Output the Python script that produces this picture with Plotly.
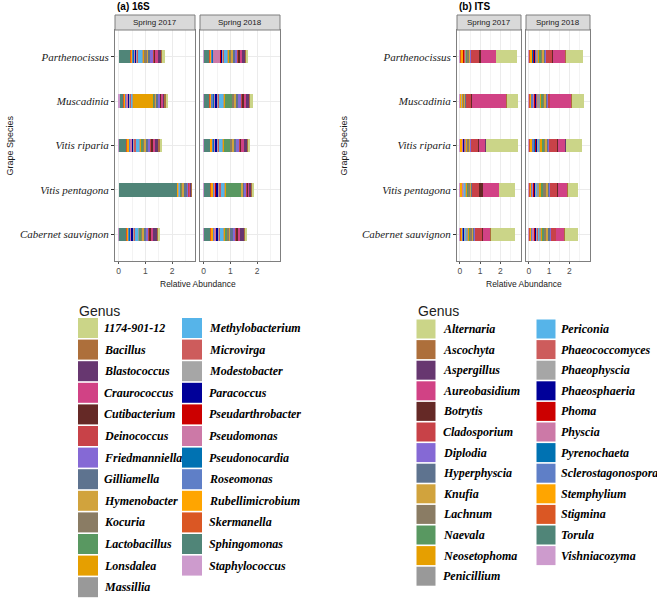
import plotly.graph_objects as go

W, H = 657, 601

# ---------------- data ----------------
species = ["Parthenocissus", "Muscadinia", "Vitis riparia", "Vitis pentagona", "Cabernet sauvignon"]
seasons = ["Spring 2017", "Spring 2018"]

genera_16s = ["1174-901-12", "Bacillus", "Blastococcus", "Craurococcus", "Cutibacterium",
              "Deinococcus", "Friedmanniella", "Gilliamella", "Hymenobacter", "Kocuria",
              "Lactobacillus", "Lonsdalea", "Massillia", "Methylobacterium", "Microvirga",
              "Modestobacter", "Paracoccus", "Pseudarthrobacter", "Pseudomonas", "Pseudonocardia",
              "Roseomonas", "Rubellimicrobium", "Skermanella", "Sphingomonas", "Staphylococcus"]

genera_its = ["Alternaria", "Ascochyta", "Aspergillus", "Aureobasidium", "Botrytis",
              "Cladosporium", "Diplodia", "Hyperphyscia", "Knufia", "Lachnum",
              "Naevala", "Neosetophoma", "Penicillium", "Periconia", "Phaeococcomyces",
              "Phaeophyscia", "Phaeosphaeria", "Phoma", "Physcia", "Pyrenochaeta",
              "Sclerostagonospora", "Stemphylium", "Stigmina", "Torula", "Vishniacozyma"]

palette = ["#CBD588", "#AD6F3B", "#673770", "#D14285", "#652926",
           "#C84248", "#8569D5", "#5E738F", "#D1A33D", "#8A7C64",
           "#599861", "#E69F00", "#999999", "#56B4E9", "#CD5C5C",
           "#A6A6A6", "#000099", "#CC0000", "#CC79A7", "#0072B2",
           "#5F7FC7", "#FFA500", "#DA5724", "#508578", "#CD9BCD"]

# 16S relative abundance, one list per bar, genus order as genera_16s
bac17_parthenocissus = [0.07, 0.04, 0.14, 0.10, 0.03, 0.04, 0.12, 0.05, 0.08, 0.07, 0.03, 0.02, 0.03, 0.16, 0.03, 0.04, 0.04, 0.01, 0.04, 0.02, 0.03, 0.05, 0.03, 0.45, 0.00]
bac17_muscadinia     = [0.05, 0.04, 0.06, 0.06, 0.03, 0.03, 0.07, 0.05, 0.04, 0.04, 0.08, 0.72, 0.03, 0.05, 0.02, 0.03, 0.05, 0.01, 0.05, 0.02, 0.04, 0.03, 0.02, 0.15, 0.05]
bac17_riparia        = [0.08, 0.05, 0.13, 0.10, 0.03, 0.04, 0.10, 0.05, 0.09, 0.05, 0.06, 0.03, 0.03, 0.15, 0.03, 0.04, 0.05, 0.01, 0.06, 0.02, 0.03, 0.06, 0.03, 0.30, 0.01]
bac17_pentagona      = [0.00, 0.01, 0.03, 0.04, 0.01, 0.02, 0.03, 0.15, 0.04, 0.03, 0.04, 0.01, 0.01, 0.02, 0.01, 0.02, 0.01, 0.00, 0.01, 0.00, 0.01, 0.01, 0.01, 2.20, 0.00]
bac17_cabernet       = [0.07, 0.04, 0.16, 0.10, 0.03, 0.05, 0.09, 0.06, 0.07, 0.05, 0.05, 0.02, 0.03, 0.12, 0.03, 0.04, 0.06, 0.01, 0.05, 0.02, 0.03, 0.06, 0.03, 0.28, 0.01]

bac18_parthenocissus = [0.06, 0.04, 0.13, 0.09, 0.03, 0.04, 0.10, 0.05, 0.08, 0.04, 0.05, 0.02, 0.03, 0.14, 0.03, 0.03, 0.04, 0.02, 0.28, 0.02, 0.04, 0.05, 0.03, 0.20, 0.02]
bac18_muscadinia     = [0.07, 0.04, 0.14, 0.09, 0.03, 0.04, 0.15, 0.06, 0.08, 0.07, 0.25, 0.03, 0.04, 0.15, 0.03, 0.05, 0.05, 0.02, 0.05, 0.03, 0.05, 0.06, 0.03, 0.20, 0.02]
bac18_riparia        = [0.06, 0.04, 0.14, 0.10, 0.03, 0.04, 0.13, 0.06, 0.07, 0.05, 0.25, 0.02, 0.03, 0.13, 0.03, 0.04, 0.06, 0.02, 0.05, 0.02, 0.04, 0.06, 0.03, 0.22, 0.02]
bac18_pentagona      = [0.06, 0.03, 0.06, 0.06, 0.03, 0.04, 0.07, 0.04, 0.05, 0.03, 0.55, 0.02, 0.04, 0.16, 0.03, 0.06, 0.08, 0.01, 0.04, 0.02, 0.04, 0.06, 0.03, 0.25, 0.01]
bac18_cabernet       = [0.07, 0.04, 0.14, 0.10, 0.03, 0.04, 0.12, 0.06, 0.08, 0.05, 0.08, 0.02, 0.03, 0.14, 0.03, 0.04, 0.06, 0.02, 0.06, 0.02, 0.04, 0.06, 0.03, 0.24, 0.02]

# ITS relative abundance, genus order as genera_its
its17_parthenocissus = [1.00, 0.01, 0.01, 0.75, 0.04, 0.45, 0.01, 0.03, 0.04, 0.10, 0.02, 0.03, 0.05, 0.00, 0.02, 0.02, 0.01, 0.02, 0.01, 0.00, 0.01, 0.12, 0.03, 0.01, 0.01]
its17_muscadinia     = [0.57, 0.01, 0.01, 1.70, 0.02, 0.28, 0.00, 0.02, 0.03, 0.05, 0.01, 0.03, 0.02, 0.00, 0.01, 0.01, 0.00, 0.01, 0.00, 0.00, 0.00, 0.05, 0.03, 0.00, 0.01]
its17_riparia        = [1.55, 0.01, 0.01, 0.36, 0.02, 0.36, 0.01, 0.03, 0.03, 0.07, 0.02, 0.03, 0.08, 0.00, 0.02, 0.03, 0.04, 0.02, 0.01, 0.01, 0.01, 0.08, 0.02, 0.02, 0.01]
its17_pentagona      = [0.77, 0.01, 0.01, 0.77, 0.20, 0.35, 0.01, 0.04, 0.06, 0.10, 0.03, 0.05, 0.06, 0.01, 0.02, 0.03, 0.02, 0.02, 0.01, 0.01, 0.01, 0.08, 0.03, 0.01, 0.01]
its17_cabernet       = [1.20, 0.01, 0.01, 0.38, 0.02, 0.37, 0.01, 0.05, 0.05, 0.12, 0.03, 0.04, 0.12, 0.01, 0.03, 0.04, 0.03, 0.02, 0.01, 0.01, 0.01, 0.10, 0.03, 0.01, 0.01]

its18_parthenocissus = [0.85, 0.01, 0.01, 0.61, 0.02, 0.33, 0.02, 0.06, 0.08, 0.09, 0.06, 0.07, 0.07, 0.02, 0.03, 0.03, 0.04, 0.05, 0.02, 0.02, 0.03, 0.08, 0.04, 0.02, 0.02]
its18_muscadinia     = [0.59, 0.01, 0.01, 1.02, 0.01, 0.12, 0.02, 0.05, 0.08, 0.10, 0.05, 0.10, 0.08, 0.02, 0.03, 0.04, 0.04, 0.06, 0.02, 0.03, 0.08, 0.07, 0.03, 0.02, 0.01]
its18_riparia        = [0.80, 0.01, 0.01, 0.40, 0.01, 0.41, 0.02, 0.06, 0.08, 0.10, 0.07, 0.08, 0.08, 0.02, 0.03, 0.04, 0.03, 0.04, 0.02, 0.03, 0.16, 0.07, 0.03, 0.02, 0.02]
its18_pentagona      = [0.52, 0.01, 0.01, 0.47, 0.01, 0.38, 0.02, 0.10, 0.10, 0.10, 0.12, 0.08, 0.10, 0.02, 0.03, 0.04, 0.06, 0.04, 0.03, 0.02, 0.03, 0.08, 0.04, 0.02, 0.01]
its18_cabernet       = [0.66, 0.01, 0.01, 0.40, 0.01, 0.28, 0.02, 0.10, 0.09, 0.10, 0.08, 0.10, 0.10, 0.02, 0.03, 0.05, 0.05, 0.10, 0.03, 0.02, 0.03, 0.08, 0.04, 0.02, 0.01]

x_ticks = [0, 1, 2]

bac_bars = {
    "Spring 2017": [bac17_parthenocissus, bac17_muscadinia, bac17_riparia, bac17_pentagona, bac17_cabernet],
    "Spring 2018": [bac18_parthenocissus, bac18_muscadinia, bac18_riparia, bac18_pentagona, bac18_cabernet],
}
its_bars = {
    "Spring 2017": [its17_parthenocissus, its17_muscadinia, its17_riparia, its17_pentagona, its17_cabernet],
    "Spring 2018": [its18_parthenocissus, its18_muscadinia, its18_riparia, its18_pentagona, its18_cabernet],
}

# ---------------- layout helpers ----------------
def xd(a, b):
    return [a / W, b / W]

def yd(top, bottom):
    return [1 - bottom / H, 1 - top / H]

def py(p):
    return 1 - p / H

def px(p):
    return p / W

PANEL_TOP, PANEL_BOT = 30, 261
STRIP_TOP = 15
panels = [
    (bac_bars, genera_16s, "Spring 2017", "x", "y", (115, 195), [-0.135, 2.85], True),
    (bac_bars, genera_16s, "Spring 2018", "x2", "y2", (200, 280), [-0.135, 2.85], False),
    (its_bars, genera_its, "Spring 2017", "x3", "y3", (457, 521), [-0.14, 3.01], True),
    (its_bars, genera_its, "Spring 2018", "x4", "y4", (526, 590), [-0.14, 3.01], False),
]

fig = go.Figure()
layout = dict(
    width=W, height=H, margin=dict(l=0, r=0, t=0, b=0),
    paper_bgcolor="white", plot_bgcolor="white",
    showlegend=False, barmode="stack", bargap=0,
    font=dict(family="Liberation Sans", color="#1a1a1a"),
)
shapes = []
annotations = []
BORDER = "#7F7F7F"
GRID = "#EBEBEB"

for bars, genera, season, xa, ya, (x0, x1), xr, first in panels:
    table = bars[season]
    for gi in reversed(range(len(genera))):
        fig.add_trace(go.Bar(
            y=species, x=[row[gi] for row in table], orientation="h",
            marker=dict(color=palette[gi], line=dict(width=0)), width=0.3,
            name=genera[gi], xaxis=xa, yaxis=ya, hoverinfo="x+name",
        ))
    xkey = "xaxis" + xa[1:]
    ykey = "yaxis" + ya[1:]
    layout[xkey] = dict(
        domain=xd(x0, x1), range=xr, anchor=ya,
        tickmode="array", tickvals=x_ticks, ticktext=[str(t) for t in x_ticks],
        showgrid=True, gridcolor=GRID, gridwidth=1,
        minor=dict(dtick=0.5, tick0=0, showgrid=True, gridcolor="#F3F3F3", gridwidth=0.6, ticks=""),
        zeroline=False, showline=True, mirror=True, linecolor=BORDER, linewidth=1,
        ticks="outside", ticklen=2, tickcolor="#555555",
        tickfont=dict(size=8.5, color="#4D4D4D", family="Liberation Sans"),
    )
    layout[ykey] = dict(
        domain=yd(PANEL_TOP, PANEL_BOT), anchor=xa, type="category",
        categoryorder="array", categoryarray=species[::-1], range=[-0.6, 4.6],
        showgrid=True, gridcolor=GRID, gridwidth=1, zeroline=False,
        showline=True, mirror=True, linecolor=BORDER, linewidth=1,
        tickmode="array", tickvals=species, ticktext=["<i>%s</i>" % s for s in species],
        ticks="outside" if first else "", ticklen=3, tickcolor="#333333",
        showticklabels=first,
        tickfont=dict(size=11, family="Liberation Serif", color="#1a1a1a"),
    )
    shapes.append(dict(type="rect", xref=xa + " domain", yref="paper",
                       x0=0, x1=1, y0=py(PANEL_TOP), y1=py(STRIP_TOP),
                       fillcolor="#D9D9D9", line=dict(color=BORDER, width=1), layer="above"))
    annotations.append(dict(text=season, xref=xa + " domain", yref="paper",
                            x=0.5, y=py((PANEL_TOP + STRIP_TOP) / 2), showarrow=False,
                            xanchor="center", yanchor="middle",
                            font=dict(size=8, color="#1A1A1A", family="Liberation Sans")))

for label, xl in [("<b>(a) 16S</b>", 115), ("<b>(b) ITS</b>", 457)]:
    annotations.append(dict(text=label, xref="paper", yref="paper", x=px(xl), y=py(7),
                            xanchor="left", yanchor="middle", showarrow=False,
                            font=dict(size=10, color="black", family="Liberation Sans")))
for xc in [(115 + 280) / 2, (457 + 590) / 2]:
    annotations.append(dict(text="Relative Abundance", xref="paper", yref="paper",
                            x=px(xc), y=py(284), showarrow=False,
                            xanchor="center", yanchor="middle",
                            font=dict(size=8.5, color="#1a1a1a", family="Liberation Sans")))
for xc in [9, 343]:
    annotations.append(dict(text="Grape Species", xref="paper", yref="paper", textangle=-90,
                            x=px(xc), y=py((PANEL_TOP + PANEL_BOT) / 2), showarrow=False,
                            xanchor="center", yanchor="middle",
                            font=dict(size=9, color="#1a1a1a", family="Liberation Sans")))

# ---------------- legends (marker grids on hidden axes) ----------------
legends = [
    # genera, per-column, x axis, y axis, domain px x, domain px y, col centres, first row, row step, swatch, text gaps, title x
    (genera_16s, 13, "x5", "y5", (60, 330), (295, 601), (88, 192), 328, 21.6, 20, (4, 5), 77),
    (genera_its, 13, "x6", "y6", (380, 657), (295, 601), (426, 546), 329, 20.6, 19, (5, 3), 416),
]
for genera, per_col, xa, ya, (dx0, dx1), (dy0, dy1), (c0, c1), r0, rs, sw, gaps, tx in legends:
    cols = [i // per_col for i in range(len(genera))]
    rows = [i % per_col for i in range(len(genera))]
    fig.add_trace(go.Scatter(
        x=cols, y=rows, mode="markers", xaxis=xa, yaxis=ya,
        marker=dict(symbol="square", size=sw, color=palette[:len(genera)], line=dict(width=0)),
        cliponaxis=False, hoverinfo="skip",
    ))
    unit = c1 - c0
    for g, c, r in zip(genera, cols, rows):
        annotations.append(dict(
            text="<b><i>%s</i></b>" % g, xref=xa, yref=ya,
            x=c + (sw / 2 + gaps[c]) / unit, y=r, xanchor="left", yanchor="middle",
            showarrow=False, font=dict(family="Liberation Serif", size=12, color="black"),
        ))
    layout["xaxis" + xa[1:]] = dict(domain=xd(dx0, dx1), anchor=ya, visible=False,
                                    range=[(dx0 - c0) / unit, (dx1 - c0) / unit])
    layout["yaxis" + ya[1:]] = dict(domain=yd(dy0, dy1), anchor=xa, visible=False,
                                    range=[(dy1 - r0) / rs, (dy0 - r0) / rs])
    annotations.append(dict(text="Genus", xref="paper", yref="paper", x=px(tx), y=py(311),
                            xanchor="left", yanchor="middle", showarrow=False,
                            font=dict(size=14, color="#222222", family="Liberation Sans")))

layout["shapes"] = shapes
layout["annotations"] = annotations
fig.update_layout(**layout)
fig.write_html("out.html", config={"displayModeBar": False},
               post_script="document.body.style.margin='0px';")
